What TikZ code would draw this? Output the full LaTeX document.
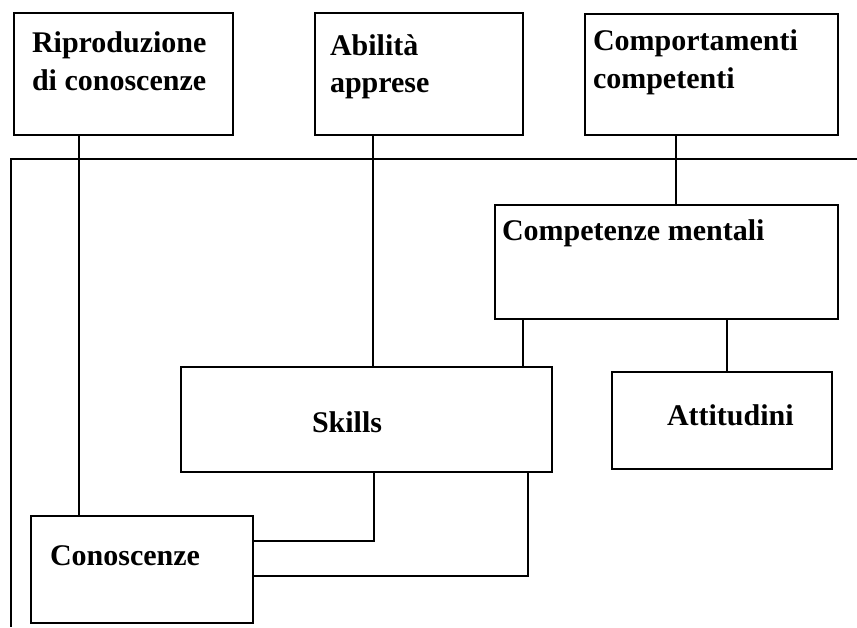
\documentclass[tikz,border=0pt]{standalone}
\usepackage{fontspec}
\setmainfont{Liberation Serif}
\begin{document}
\begin{tikzpicture}[x=1pt,y=-1pt,
  box/.style={draw=black,line width=2pt,anchor=north west,inner sep=0pt,outer sep=0pt,fill=none},
  lbl/.style={anchor=base west,inner sep=0pt,outer sep=0pt,font=\bfseries\fontsize{30}{34}\selectfont},
  conn/.style={draw=black,line width=2pt}]
\fill[white] (0,0) rectangle (857,627);
\useasboundingbox (0,0) rectangle (857,627);
% outer frame
\coordinate (fR) at (857,159);
\coordinate (fC) at (11,159);
\coordinate (fB) at (11,627);
\draw[conn] (fR) -- (fC) -- (fB);
% boxes
\node[box,minimum width=219pt,minimum height=122pt] (rip) at (14,13) {};
\node[box,minimum width=208pt,minimum height=122pt] (abi) at (315,13) {};
\node[box,minimum width=253pt,minimum height=121pt] (com) at (585,14) {};
\node[box,minimum width=343pt,minimum height=114pt] (cm) at (495,205) {};
\node[box,minimum width=371pt,minimum height=105pt] (sk) at (181,367) {};
\node[box,minimum width=220pt,minimum height=97pt] (att) at (612,372) {};
\node[box,minimum width=222pt,minimum height=107pt] (con) at (31,516) {};
% texts
\node[lbl] (t1a) at (32,52) {Riproduzione};
\node[lbl] (t1b) at (32,90) {di conoscenze};
\node[lbl] (t2a) at (330,55) {Abilità};
\node[lbl] (t2b) at (330,92) {apprese};
\node[lbl] (t3a) at (593,50) {Comportamenti};
\node[lbl] (t3b) at (593,88) {competenti};
\node[lbl] (t4) at (502,240) {Competenze mentali};
\node[lbl] (t5) at (312,432) {Skills};
\node[lbl] (t6) at (667,425) {Attitudini};
\node[lbl] (t7) at (50,565) {Conoscenze};
% connector x positions
\coordinate (xa) at (79,0);
\coordinate (xb) at (373,0);
\coordinate (xc) at (676,0);
\coordinate (xd) at (523,0);
\coordinate (xe) at (727,0);
\coordinate (xf) at (374,541);
\coordinate (xg) at (528,576);
% connectors
\draw[conn] (rip.south -| xa) -- (con.north -| xa);
\draw[conn] (abi.south -| xb) -- (sk.north -| xb);
\draw[conn] (com.south -| xc) -- (cm.north -| xc);
\draw[conn] (cm.south -| xd) -- (sk.north -| xd);
\draw[conn] (cm.south -| xe) -- (att.north -| xe);
\draw[conn] (sk.south -| xf) -- (xf) -- (con.east |- xf);
\draw[conn] (sk.south -| xg) -- (xg) -- (con.east |- xg);
\end{tikzpicture}
\end{document}
